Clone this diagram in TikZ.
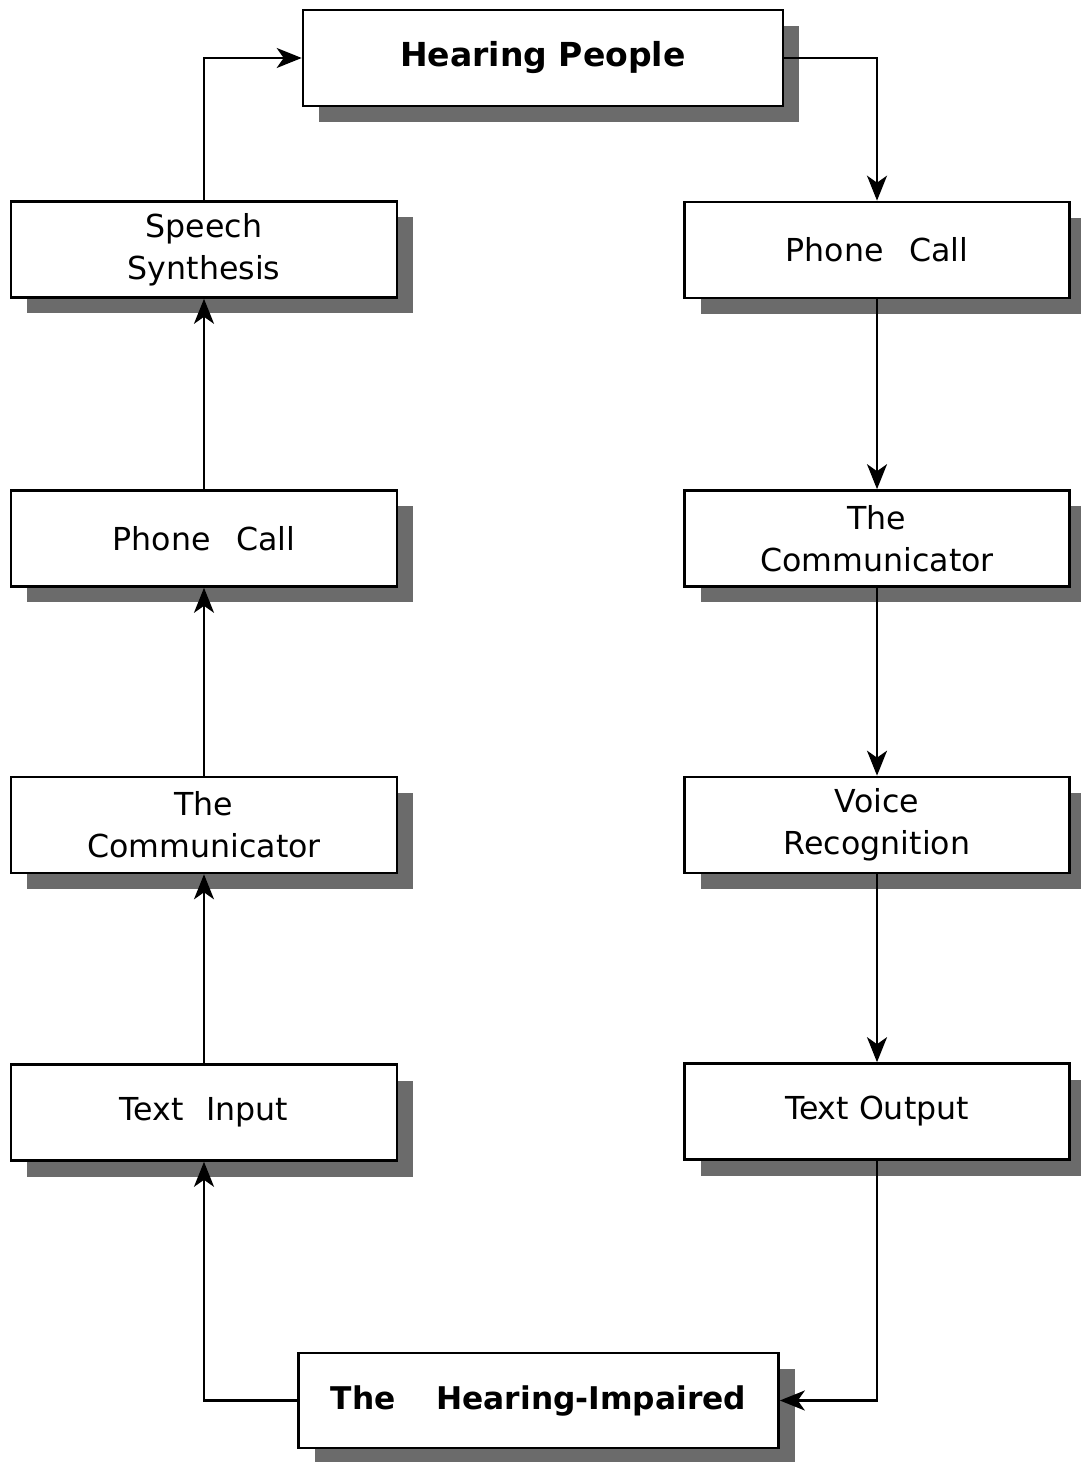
\documentclass[tikz,border=0pt]{standalone}
\usepackage{fontspec}
\setmainfont{DejaVu Sans}
\usetikzlibrary{arrows.meta, shadows}

\tikzset{
  caja/.style={draw, fill=white, line width=0.75pt, align=center,
    minimum width=3.86cm, minimum height=0.96cm, inner sep=0pt,
    font=\fontsize{9}{12}\selectfont,
    general shadow={fill=black!58, shadow xshift=1.6mm, shadow yshift=-1.6mm}},
  cajagrande/.style={caja, minimum width=4.8cm, font=\fontsize{9.4}{12}\bfseries}
}

\begin{document}
\begin{tikzpicture}[>={Stealth[length=2.5mm, width=2mm, inset=0.7mm]}, line width=0.65pt]
  \useasboundingbox (0,0) rectangle (10.8,-14.62);
  % extremos: oyentes arriba, sordos abajo
  \node[cajagrande] (hp) at (5.43,-0.58) {Hearing People};
  \node[cajagrande, minimum height=0.95cm, font=\fontsize{8.9}{12}\bfseries] (hi) at (5.385,-14.005) {The\hspace{1.3em}Hearing-Impaired};
  % columna izquierda (de abajo hacia arriba)
  \node[caja] (ti)  at (2.04,-11.125) {Text\hspace{0.7em}Input};
  \node[caja] (cml) at (2.04,-8.25)   {The\\Communicator};
  \node[caja] (pcl) at (2.04,-5.385)  {Phone\hspace{0.8em}Call};
  \node[caja] (ss)  at (2.04,-2.495)  {Speech\\Synthesis};
  % columna derecha (de arriba hacia abajo)
  \node[caja, minimum width=3.85cm] (pcr) at (8.77,-2.5)    {Phone\hspace{0.8em}Call};
  \node[caja, minimum width=3.85cm] (cmr) at (8.77,-5.385)  {The\\Communicator};
  \node[caja, minimum width=3.85cm] (vr)  at (8.77,-8.25)   {Voice\\Recognition};
  \node[caja, minimum width=3.85cm] (to)  at (8.77,-11.115) {Text Output};
  % flechas
  \draw[->] (hi.west) -| (ti.south);
  \draw[->] (ti) -- (cml);
  \draw[->] (cml) -- (pcl);
  \draw[->] (pcl) -- (ss);
  \draw[->] (ss.north) |- (hp.west);
  \draw[->] (hp.east) -| (pcr.north);
  \draw[->] (pcr) -- (cmr);
  \draw[->] (cmr) -- (vr);
  \draw[->] (vr) -- (to);
  \draw[->] (to.south) |- (hi.east);
\end{tikzpicture}
\end{document}
